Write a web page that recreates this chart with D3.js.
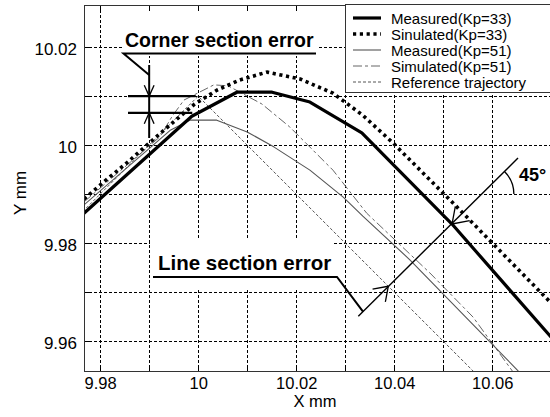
<!DOCTYPE html>
<html>
<head>
<meta charset="utf-8">
<script src="https://cdn.jsdelivr.net/npm/d3@7"></script>
<style>
    body { margin: 0; background: #fff; }
    svg { display: block; font-family: "Liberation Sans", Arial, sans-serif; }
</style>
</head>
<body>
<svg id="chart" width="550" height="417"></svg>
<script>
// values (mm)
const measured33X = [9.9767, 9.9987, 10.0079, 10.0151, 10.0228, 10.0334, 10.0518, 10.0722];
const measured33Y = [9.9861, 10.0059, 10.0108, 10.0108, 10.0088, 10.0025, 9.9839, 9.9606];

const simulated33X = [9.9767, 9.9810, 9.9857, 9.9902, 9.9947, 9.9993, 10.0038, 10.0085, 10.0140, 10.0208, 10.0275, 10.0336, 10.0398, 10.0520, 10.0722];
const simulated33Y = [9.9890, 9.9927, 9.9966, 10.0006, 10.0045, 10.0084, 10.0112, 10.0133, 10.0149, 10.0135, 10.0106, 10.0061, 10.0004, 9.9882, 9.9676];

const measured51X = [9.9767, 9.9944, 9.9983, 10.0038, 10.0100, 10.0155, 10.0228, 10.0296, 10.0336, 10.0432, 10.0657];
const measured51Y = [9.9878, 10.0031, 10.0051, 10.0051, 10.0027, 9.9996, 9.9949, 9.9894, 9.9855, 9.9766, 9.9535];

const simulated51X = [9.9767, 9.9922, 9.9947, 9.9971, 10.0032, 10.0061, 10.0130, 10.0187, 10.0234, 10.0275, 10.0344, 10.0473, 10.0561, 10.0647];
const simulated51Y = [9.9884, 10.0017, 10.0059, 10.0092, 10.0123, 10.0121, 10.0084, 10.0037, 9.9990, 9.9949, 9.9861, 9.9739, 9.9649, 9.9531];

const referenceX = [9.975, 10, 10.075];
const referenceY = [9.985, 10.01, 9.935];

const xTickValues = [9.98, 10, 10.02, 10.04, 10.06];
const xTickLabels = ["9.98", "10", "10.02", "10.04", "10.06"];
const yTickValues = [9.96, 9.98, 10, 10.02];
const yTickLabels = ["9.96", "9.98", "10", "10.02"];
const xGridValues = [9.98, 9.99, 10, 10.01, 10.02, 10.03, 10.04, 10.05, 10.06];
const yGridValues = [9.96, 9.97, 9.98, 9.99, 10, 10.01, 10.02];

const legendLabels = ["Measured(Kp=33)", "Sinulated(Kp=33)", "Measured(Kp=51)", "Simulated(Kp=51)", "Reference trajectory"];

// annotation anchors (data units)
const cornerX = 9.99, cornerTop = 10.01, cornerBottom = 10.0066;
const lineRef = [10.0388, 9.9712], lineMeas = [10.0518, 9.9839];
const angleY = 9.99;

const svg = d3.select('#chart');
const plot = { l: 84, r: 550, t: 5, b: 371 };

const x = d3.scaleLinear().domain([9.9767, 10.0718]).range([plot.l, plot.r]);
const y = d3.scaleLinear().domain([9.9539, 10.0286]).range([plot.b, plot.t]);

svg.append('defs').append('clipPath').attr('id', 'clip')
    .append('rect')
    .attr('x', plot.l).attr('y', plot.t)
    .attr('width', plot.r - plot.l).attr('height', plot.b - plot.t);

// grid
const grid = svg.append('g').attr('shape-rendering', 'crispEdges');
grid.selectAll('.gx')
    .data(xGridValues)
    .join('line')
    .attr('class', 'gx')
    .attr('x1', d => Math.round(x(d)) + 0.5).attr('x2', d => Math.round(x(d)) + 0.5)
    .attr('y1', plot.t).attr('y2', plot.b)
    .attr('stroke', '#000').attr('stroke-dasharray', '3,2');
grid.selectAll('.gy')
    .data(yGridValues)
    .join('line')
    .attr('class', 'gy')
    .attr('y1', d => Math.round(y(d)) + 0.5).attr('y2', d => Math.round(y(d)) + 0.5)
    .attr('x1', plot.l).attr('x2', plot.r)
    .attr('stroke', '#000').attr('stroke-dasharray', '3,2');

// white boxes behind the callout texts
const boxes = [[122, 11, 195, 45], [150, 238, 183, 51], [516, 163, 34, 24]];
svg.append('g').selectAll('rect')
    .data(boxes)
    .join('rect')
    .attr('x', d => d[0]).attr('y', d => d[1])
    .attr('width', d => d[2]).attr('height', d => d[3])
    .attr('fill', '#fff');

// series
const series = [
    { name: legendLabels[0], xs: measured33X, ys: measured33Y, color: '#000', width: 3.2, dash: null, cap: 'round' },
    { name: legendLabels[1], xs: simulated33X, ys: simulated33Y, color: '#000', width: 3.6, dash: '3.2,3.6', cap: 'butt' },
    { name: legendLabels[2], xs: measured51X, ys: measured51Y, color: '#555', width: 1.1, dash: null, cap: 'butt' },
    { name: legendLabels[3], xs: simulated51X, ys: simulated51Y, color: '#666', width: 1, dash: '9,3,3,3', cap: 'butt' },
    { name: legendLabels[4], xs: referenceX, ys: referenceY, color: '#555', width: 1, dash: '3,2', cap: 'butt' }
];

const line = d3.line().x(d => x(d[0])).y(d => y(d[1]));

svg.append('g')
    .attr('clip-path', 'url(#clip)')
    .selectAll('path')
    .data(series.slice().reverse())
    .join('path')
    .attr('d', d => line(d3.zip(d.xs, d.ys)))
    .attr('fill', 'none')
    .attr('stroke', d => d.color)
    .attr('stroke-width', d => d.width)
    .attr('stroke-dasharray', d => d.dash)
    .attr('stroke-linecap', d => d.cap)
    .attr('stroke-linejoin', 'round');

// callouts
const ann = svg.append('g').attr('stroke', '#000').attr('fill', 'none');

function arrowHead(g, tx, ty, ang, len, spread) {
    // ang = direction the arrow points to (radians, screen coords)
    [ang + Math.PI - spread, ang + Math.PI + spread].forEach(a => {
        g.append('line')
            .attr('x1', tx).attr('y1', ty)
            .attr('x2', tx + len * Math.cos(a)).attr('y2', ty + len * Math.sin(a))
            .attr('stroke-width', 1.3);
    });
}

// corner section error
const cx = x(cornerX);
ann.append('line').attr('x1', cx).attr('x2', cx).attr('y1', 65).attr('y2', 138).attr('stroke-width', 2);
ann.append('line').attr('x1', 128).attr('x2', x(9.9995)).attr('y1', y(cornerTop)).attr('y2', y(cornerTop)).attr('stroke-width', 2.2);
ann.append('line').attr('x1', 128).attr('x2', x(9.9988)).attr('y1', y(cornerBottom)).attr('y2', y(cornerBottom)).attr('stroke-width', 2.2);
arrowHead(ann, cx, y(cornerTop), Math.PI / 2, 12, 0.42);
arrowHead(ann, cx, y(cornerBottom), -Math.PI / 2, 12, 0.42);
ann.append('polyline')
    .attr('points', `316,53.5 123.5,53.5 ${cx},75`)
    .attr('stroke-width', 2);

svg.append('text')
    .attr('x', 125).attr('y', 47)
    .attr('font-size', 19.5).attr('font-weight', 'bold')
    .text('Corner section error');

// line section error
const rx = x(lineRef[0]), ry = y(lineRef[1]);
const mx = x(lineMeas[0]), my = y(lineMeas[1]);
ann.append('line')
    .attr('x1', rx - 30).attr('y1', ry + 30)
    .attr('x2', mx + 66).attr('y2', my - 66)
    .attr('stroke-width', 1.4);
arrowHead(ann, rx, ry, -Math.PI / 4, 16, 0.6);
arrowHead(ann, mx, my, 3 * Math.PI / 4, 18, 0.6);
const lx = 363;
ann.append('polyline')
    .attr('points', `153,277 337,277 ${lx},${ry + (rx - lx)}`)
    .attr('stroke-width', 2);

svg.append('text')
    .attr('x', 158).attr('y', 270)
    .attr('font-size', 20.5).attr('font-weight', 'bold')
    .text('Line section error');

// 45 degree mark
const ay = y(angleY);
const ax = mx + (my - ay);
const arc = d3.path();
arc.arc(ax, ay, 32, -Math.PI / 4, 0);
ann.append('path').attr('d', arc.toString()).attr('stroke-width', 1.3);

svg.append('text')
    .attr('x', 519).attr('y', 181)
    .attr('font-size', 18).attr('font-weight', 'bold')
    .text('45°');

// axes
const fmtX = d => { const i = xTickValues.findIndex(v => Math.abs(v - d) < 1e-9); return i < 0 ? '' : xTickLabels[i]; };
const fmtY = d => { const i = yTickValues.findIndex(v => Math.abs(v - d) < 1e-9); return i < 0 ? '' : yTickLabels[i]; };

const axisX = svg.append('g')
    .attr('transform', `translate(0,${plot.b})`)
    .call(d3.axisBottom(x).tickValues(xGridValues).tickFormat(fmtX).tickSizeInner(-6).tickSizeOuter(0).tickPadding(7));
const axisY = svg.append('g')
    .attr('transform', `translate(${plot.l},0)`)
    .call(d3.axisLeft(y).tickValues(yGridValues).tickFormat(fmtY).tickSizeInner(-6).tickSizeOuter(0).tickPadding(7));
const axisTop = svg.append('g')
    .attr('transform', `translate(0,${plot.t})`)
    .call(d3.axisTop(x).tickValues(xGridValues).tickFormat('').tickSizeInner(-6).tickSizeOuter(0));

[axisX, axisY, axisTop].forEach(a => {
    a.selectAll('.domain').remove();
    a.selectAll('line').attr('stroke', '#000').attr('shape-rendering', 'crispEdges');
    a.selectAll('text').attr('font-size', 17).attr('fill', '#000')
        .attr('font-family', '"Liberation Sans", Arial, sans-serif');
});
axisX.selectAll('text').attr('font-size', 16.5).attr('dy', '0.68em');
axisY.selectAll('text').attr('dy', '0.42em');

// frame
svg.append('path')
    .attr('d', `M${plot.r + 2},${plot.t + 0.5}H${plot.l + 0.5}V${plot.b + 0.5}H${plot.r + 2}`)
    .attr('fill', 'none').attr('stroke', '#333').attr('shape-rendering', 'crispEdges');

// legend
const legend = svg.append('g');
legend.append('rect')
    .attr('x', 345.5).attr('y', 4.5)
    .attr('width', 212).attr('height', 88)
    .attr('fill', '#fff').attr('stroke', '#333').attr('shape-rendering', 'crispEdges');

const rows = legend.selectAll('.row')
    .data(series)
    .join('g')
    .attr('class', 'row')
    .attr('transform', (d, i) => `translate(0,${18 + i * 16})`);
rows.append('line')
    .attr('x1', 353).attr('x2', 381).attr('y1', 0).attr('y2', 0)
    .attr('stroke', d => d.color)
    .attr('stroke-width', d => d.width)
    .attr('stroke-dasharray', d => d.dash)
    .attr('stroke-linecap', 'butt');
rows.append('text')
    .attr('x', 391).attr('y', 5.5)
    .attr('font-size', 15)
    .text(d => d.name);

// axis titles
svg.append('text')
    .attr('x', 315).attr('y', 407)
    .attr('text-anchor', 'middle').attr('font-size', 16.5)
    .text('X mm');
svg.append('text')
    .attr('transform', 'translate(25.5,193) rotate(-90)')
    .attr('text-anchor', 'middle').attr('font-size', 17)
    .text('Y mm');
</script>
</body>
</html>
